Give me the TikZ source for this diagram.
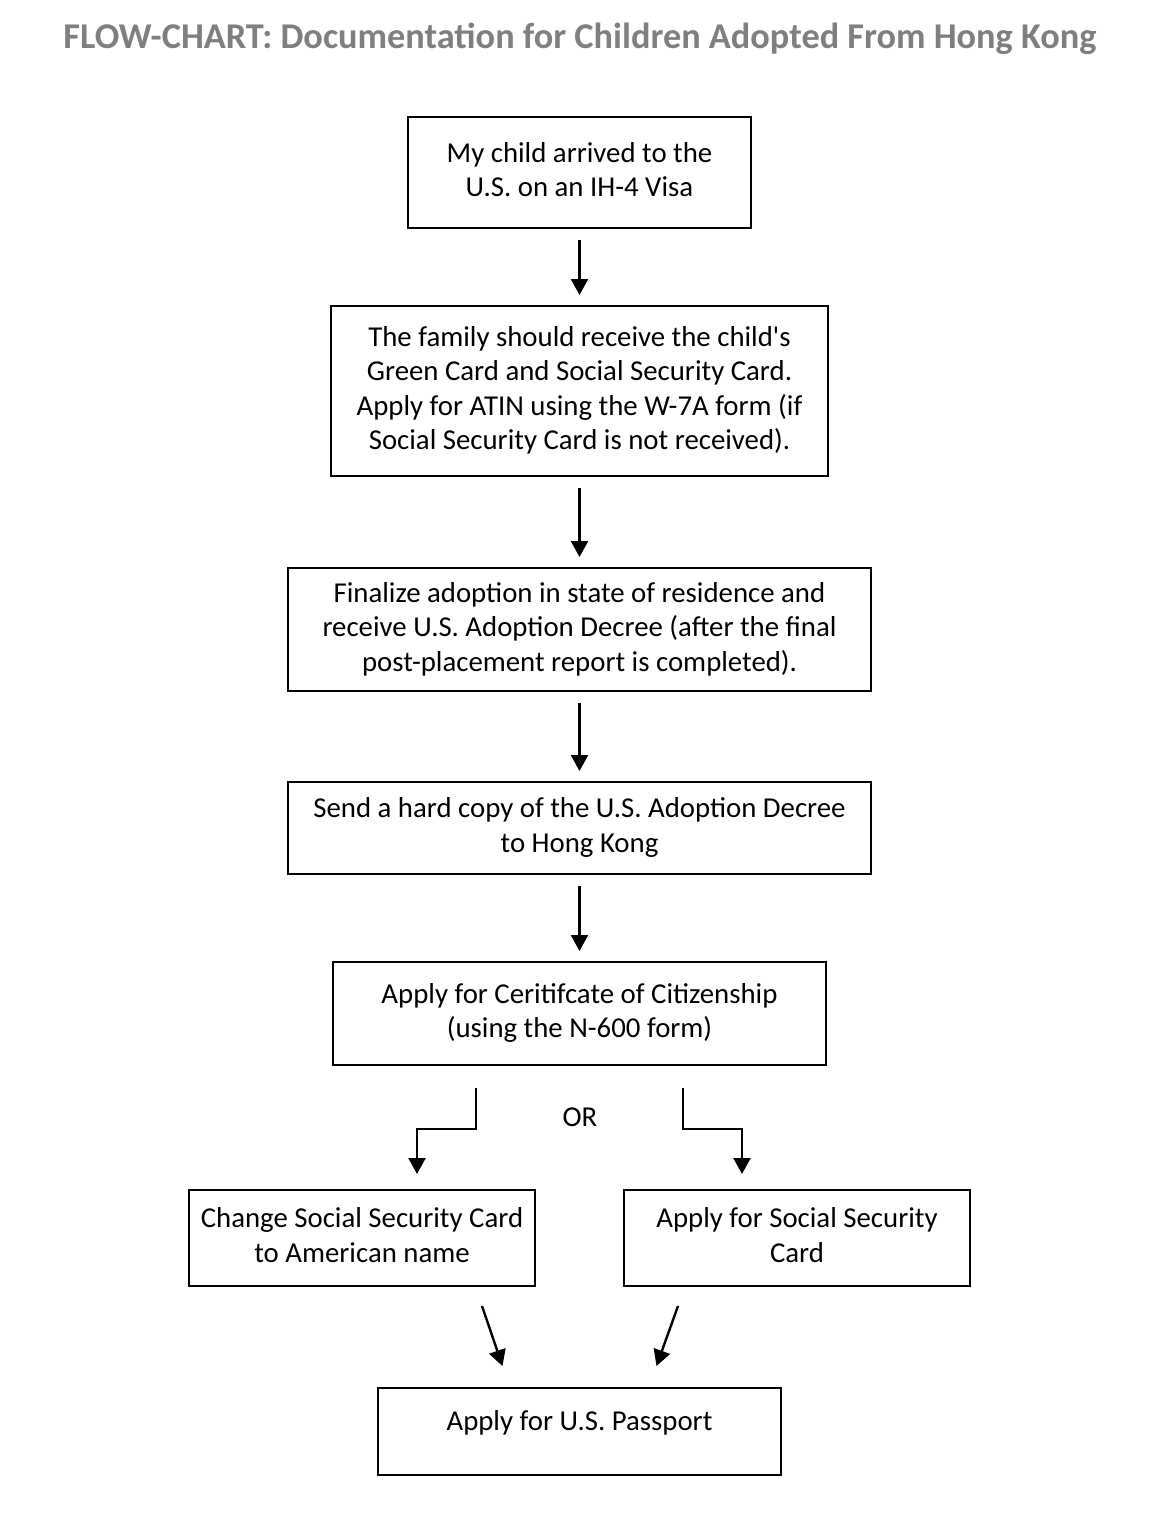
\documentclass[tikz,border=0pt]{standalone}
\usepackage{fontspec}
\setmainfont{Carlito}
\usetikzlibrary{arrows.meta,calc}
\definecolor{Heading}{HTML}{7F7F7F}
\tikzset{box/.style={draw=black,line width=2pt,align=center,inner sep=0pt,
    text depth=6pt,font=\fontsize{28.8}{34.5}\selectfont},
  edge/.style={-{Triangle[length=16pt,width=17pt]},line width=2.4pt,
    shorten <=11pt,shorten >=10pt},
  elbow/.style={edge,shorten <=0pt,shorten >=0pt}}

\begin{document}
\begin{tikzpicture}[x=1pt,y=-1pt]
    \useasboundingbox (0,0) rectangle (1168,1536);
    \node[font=\bfseries\fontsize{36.3}{40}\selectfont,text=Heading] (title) at (580,39)
      {FLOW-CHART: Documentation for Children Adopted From Hong Kong};
    % main column
    \node[box,minimum width=343pt,minimum height=111pt] (arrived) at (579.5,172.5)
      {My child arrived to the\\U.S. on an IH-4 Visa};
    \node[box,minimum width=497pt,minimum height=170pt] (cards) at (579.5,391)
      {The family should receive the child\textquotesingle s\\Green Card and Social Security Card.\\
       Apply for ATIN using the W-7A form (if\\Social Security Card is not received).};
    \node[box,minimum width=583pt,minimum height=123pt] (finalize) at (579.5,629.5)
      {Finalize adoption in state of residence and\\receive U.S. Adoption Decree (after the final\\
       post-placement report is completed).};
    \node[box,minimum width=583pt,minimum height=92pt] (decree) at (579.5,828)
      {Send a hard copy of the U.S. Adoption Decree\\to Hong Kong};
    \node[box,minimum width=493pt,minimum height=103pt] (citizen) at (579.5,1013.5)
      {Apply for Ceritifcate of Citizenship\\(using the N-600 form)};
    % the two options
    \node[box,minimum width=346pt,minimum height=96pt] (changessc) at (362,1238)
      {Change Social Security Card\\to American name};
    \node[box,minimum width=346pt,minimum height=96pt] (applyssc) at (797,1238)
      {Apply for Social Security\\Card};
    \node[box,text depth=22pt,minimum width=403pt,minimum height=87pt] (passport) at (579.5,1431.5)
      {Apply for U.S. Passport};
    \node[font=\fontsize{28.8}{32}\selectfont] (or) at (580,1117) {OR};

    \draw[edge] (arrived) -- (cards);
    \draw[edge] (cards) -- (finalize);
    \draw[edge] (finalize) -- (decree);
    \draw[edge] (decree) -- (citizen);
    \draw[elbow] ($(citizen.south)+(-103.5,22)$) -- ++(0,41)
      -| ($(changessc.north)+(55,-15)$);
    \draw[elbow] ($(citizen.south)+(103.5,22)$) -- ++(0,41)
      -| ($(applyssc.north)+(-55,-15)$);
    \draw[elbow] ($(changessc.south)+(120,19)$) -- ($(passport.north)+(-77,-21)$);
    \draw[elbow] ($(applyssc.south)+(-119,19)$) -- ($(passport.north)+(77,-21)$);
  \end{tikzpicture}
\end{document}
